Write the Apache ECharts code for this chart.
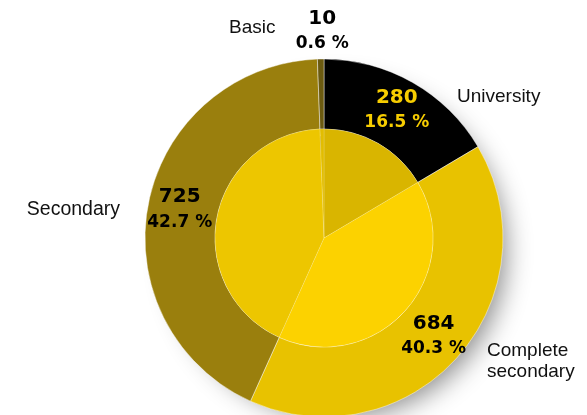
<!DOCTYPE html>
<html>
<head>
<meta charset="utf-8">
<script src="https://cdn.jsdelivr.net/npm/echarts@6/dist/echarts.min.js"></script>
</head>
<body style="margin:0;background:#ffffff">
<div id="chart" style="width:587px;height:415px"></div>
<script>
// Education level counts, clockwise from 12 o'clock
const categories = ['University', 'Complete secondary', 'Secondary', 'Basic'];
const counts = [280, 684, 725, 10];
const shares = [16.5, 40.3, 42.7, 0.6];
const nameLabels = ['University', 'Complete\nsecondary', 'Secondary', 'Basic'];

const ringColors = ['#000000', '#e8c200', '#9a7f0d', '#6b5a10'];
const coreColors = ['#d9b500', '#fcd200', '#edc600', '#e2bd00'];
const valueColors = ['#f7cd00', '#000000', '#000000', '#000000'];

const total = counts.reduce((a, b) => a + b, 0);

const chart = echarts.init(document.getElementById('chart'));

const ringData = categories.map((c, i) => ({
  name: c,
  value: counts[i],
  itemStyle: { color: ringColors[i] },
  label: {
    rich: {
      v: { color: valueColors[i], fontSize: 20, fontWeight: 'bold', fontFamily: 'DejaVu Sans', lineHeight: 25 },
      p: { color: valueColors[i], fontSize: 17, fontWeight: 'bold', fontFamily: 'DejaVu Sans', lineHeight: 25 }
    }
  }
}));
// the thin Basic wedge carries its label above the ring
ringData[3].label.offset = [1, -60];

const coreData = categories.map((c, i) => ({
  name: c,
  value: counts[i],
  itemStyle: { color: coreColors[i] }
}));

chart.setOption({
  animation: false,
  series: [
    {
      // soft drop shadow under the outer ring (kept inside the canvas)
      type: 'pie',
      center: [324, 236],
      radius: [100, 168],
      label: { show: false },
      data: [{ value: total }],
      itemStyle: {
        color: '#ffffff',
        shadowColor: 'rgba(0,0,0,0.45)',
        shadowBlur: 26,
        shadowOffsetX: 14,
        shadowOffsetY: 14
      }
    },
    {
      type: 'pie',
      center: [324, 238],
      radius: [109, 179],
      startAngle: 90,
      avoidLabelOverlap: false,
      itemStyle: { borderColor: 'rgba(255,255,255,0.55)', borderWidth: 0.8 },
      label: {
        show: true,
        position: 'inside',
        rotate: 0,
        formatter: (p) => '{v|' + counts[p.dataIndex] + '}\n{p|' + shares[p.dataIndex].toFixed(1) + ' %}'
      },
      labelLine: { show: false },
      data: ringData
    },
    {
      type: 'pie',
      center: [324, 238],
      radius: [0, 109],
      startAngle: 90,
      label: { show: false },
      labelLine: { show: false },
      itemStyle: { borderColor: 'rgba(255,255,255,0.25)', borderWidth: 0.6 },
      data: coreData
    }
  ],
  graphic: [
    { type: 'text', x: 457, y: 97, style: { text: nameLabels[0], fill: '#111', font: '19px "Liberation Sans"', textVerticalAlign: 'middle' } },
    { type: 'text', x: 487, y: 361, style: { text: nameLabels[1], fill: '#111', font: '19px "Liberation Sans"', lineHeight: 21, textVerticalAlign: 'middle' } },
    { type: 'text', x: 120, y: 210, style: { text: nameLabels[2], fill: '#111', font: '19.5px "Liberation Sans"', textAlign: 'right', textVerticalAlign: 'middle' } },
    { type: 'text', x: 229, y: 28, style: { text: nameLabels[3], fill: '#111', font: '19px "Liberation Sans"', textVerticalAlign: 'middle' } }
  ]
});
</script>
</body>
</html>
